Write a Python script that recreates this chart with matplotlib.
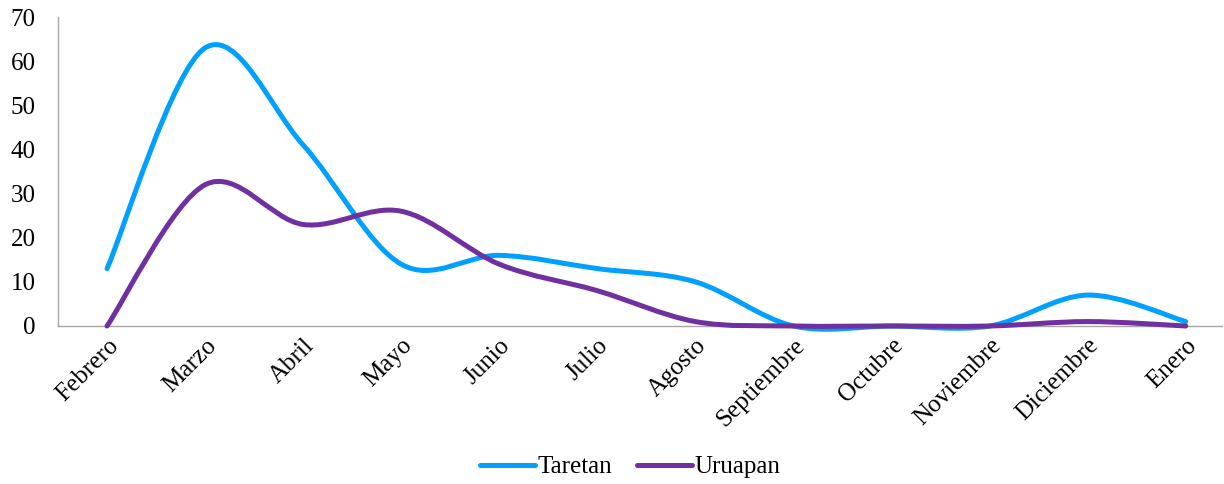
import matplotlib
matplotlib.use("Agg")
import matplotlib.pyplot as plt
from matplotlib.path import Path
from matplotlib.patches import PathPatch
from matplotlib.lines import Line2D

months = ['Febrero', 'Marzo', 'Abril', 'Mayo', 'Junio', 'Julio', 'Agosto',
          'Septiembre', 'Octubre', 'Noviembre', 'Diciembre', 'Enero']
taretan = [13, 63, 41, 14, 16, 13, 10, 0, 0, 0, 7, 1]
uruapan = [0, 32, 23, 26, 14, 8, 1, 0, 0, 0, 1, 0]

plt.rcParams['font.family'] = ['Liberation Serif', 'DejaVu Serif']


def smooth_path(ys):
    # Excel-style smoothed line: cubic Bezier through each point
    xs = list(range(len(ys)))
    pts = list(zip(xs, ys))
    verts = [pts[0]]
    codes = [Path.MOVETO]
    n = len(pts)
    for i in range(n - 1):
        p0 = pts[i - 1] if i > 0 else pts[i]
        p1 = pts[i]
        p2 = pts[i + 1]
        p3 = pts[i + 2] if i + 2 < n else pts[i + 1]
        c1 = (p1[0] + (p2[0] - p0[0]) / 6, p1[1] + (p2[1] - p0[1]) / 6)
        c2 = (p2[0] - (p3[0] - p1[0]) / 6, p2[1] - (p3[1] - p1[1]) / 6)
        verts += [c1, c2, p2]
        codes += [Path.CURVE4] * 3
    return Path(verts, codes)


fig = plt.figure(figsize=(12.24, 4.84), dpi=100)
ax = fig.add_axes([58 / 1224, 1 - 326 / 484, (1222 - 58) / 1224, (326 - 17) / 484])

blue = '#00A0FF'
purple = '#7030A0'
for vals, color in [(taretan, blue), (uruapan, purple)]:
    patch = PathPatch(smooth_path(vals), facecolor='none', edgecolor=color,
                      lw=3.6, capstyle='round', joinstyle='round', zorder=3)
    patch.set_clip_on(False)
    ax.add_patch(patch)

ax.set_xlim(-0.5, 11.37)
ax.set_ylim(0, 70)
ax.set_yticks(range(0, 71, 10))
ax.set_xticks(range(len(months)))
ax.set_xticklabels(months, rotation=45, ha='right', va='top',
                   rotation_mode='anchor', fontsize=18)
ax.tick_params(axis='y', labelsize=18, length=0, pad=16)
ax.tick_params(axis='x', length=0, pad=6)

for s in ['top', 'right']:
    ax.spines[s].set_visible(False)
for s in ['left', 'bottom']:
    ax.spines[s].set_color('#A6A6A6')
    ax.spines[s].set_linewidth(1.0)

handles = [Line2D([0], [0], color=blue, lw=3.6, solid_capstyle='round'),
           Line2D([0], [0], color=purple, lw=3.6, solid_capstyle='round')]
fig.legend(handles, ['Taretan', 'Uruapan'], loc='center',
           bbox_to_anchor=(630 / 1224, 1 - 467 / 484), ncol=2, frameon=False,
           fontsize=18, handlelength=2.2, handletextpad=0.1, columnspacing=1.0)

fig.savefig('out.png', dpi=100)
